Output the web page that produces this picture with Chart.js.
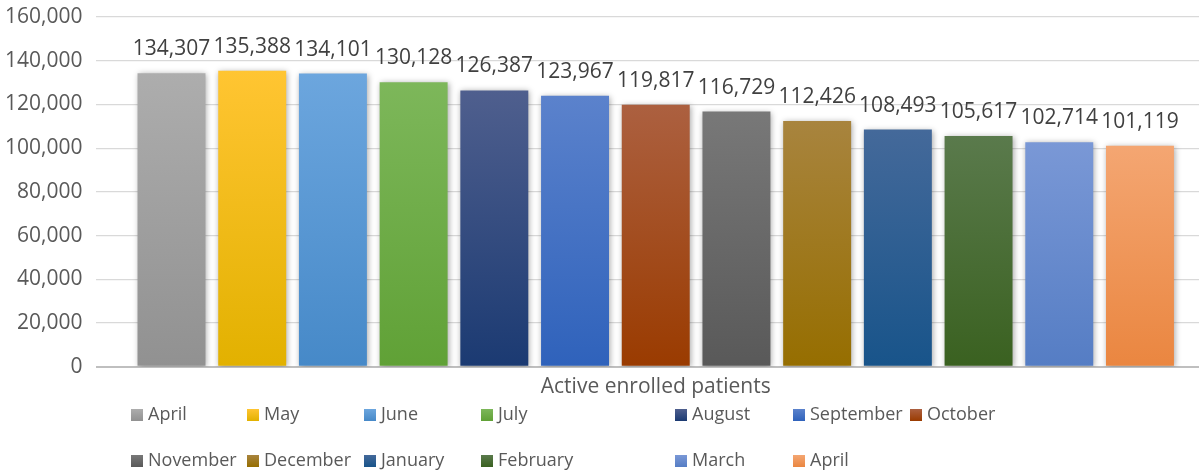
<!DOCTYPE html>
<html>
<head>
<meta charset="utf-8">
<script src="https://cdn.jsdelivr.net/npm/chart.js@4/dist/chart.umd.min.js"></script>
<style>
  html, body { margin: 0; padding: 0; background: #fff; overflow: hidden; }
  #wrap { position: relative; width: 1199px; height: 472px; overflow: hidden; }
  #box { position: absolute; left: 0; top: 0; width: 1216px; height: 472px; }
  .leg { position: absolute; font: 18px "Open Sans", sans-serif; color: #595959; white-space: nowrap; line-height: 24px; }
  .leg span { display: inline-block; width: 12px; height: 12px; margin-right: 5px; vertical-align: -1px; }
</style>
</head>
<body>
<div id="wrap">
  <div id="box"><canvas id="enrolChart"></canvas></div>
</div>
<script>
// pacientes ativos por mes
const categories = ['Active enrolled patients'];
const months = ['April', 'May', 'June', 'July', 'August', 'September', 'October',
                'November', 'December', 'January', 'February', 'March', 'April'];
const patients = [134307, 135388, 134101, 130128, 126387, 123967, 119817,
                  116729, 112426, 108493, 105617, 102714, 101119];
const yTicks = [0, 20000, 40000, 60000, 80000, 100000, 120000, 140000, 160000];

// top / bottom of each bar gradient
const topColors = ['#adadad', '#ffc532', '#6ca6de', '#7db75a', '#4f5f8e', '#5b82cc', '#ac6040',
                   '#787878', '#a8843e', '#44699a', '#5a7a4c', '#7a98d6', '#f4a672'];
const bottomColors = ['#919191', '#e2b100', '#4689c8', '#60a136', '#1b3a72', '#2f62bb', '#9a3b00',
                      '#595959', '#966e00', '#18548a', '#3a6120', '#557dc4', '#ea8640'];

const legendCols = [131, 247, 364, 481, 675, 793, 910];
const legendRows = [401, 447];

function barFill(i) {
    return function (context) {
        const chart = context.chart;
        const area = chart.chartArea;
        if (!area || !chart.scales.y) return topColors[i];
        const yTop = chart.scales.y.getPixelForValue(patients[i]);
        const g = chart.ctx.createLinearGradient(0, yTop, 0, area.bottom);
        g.addColorStop(0, topColors[i]);
        g.addColorStop(1, bottomColors[i]);
        return g;
    };
}

const barShadow = {
    id: 'barShadow',
    beforeDatasetDraw(chart) {
        const c = chart.ctx;
        c.save();
        c.shadowColor = 'rgba(0,0,0,0.35)';
        c.shadowBlur = 6;
        c.shadowOffsetX = 1;
        c.shadowOffsetY = 1;
    },
    afterDatasetDraw(chart) {
        chart.ctx.restore();
    }
};

const valueLabels = {
    id: 'valueLabels',
    afterDatasetsDraw(chart) {
        const c = chart.ctx;
        c.save();
        c.font = '21px "Open Sans", sans-serif';
        c.fillStyle = '#404040';
        c.textAlign = 'center';
        c.textBaseline = 'alphabetic';
        chart.data.datasets.forEach((ds, i) => {
            const meta = chart.getDatasetMeta(i);
            meta.data.forEach((bar, j) => {
                c.fillText(ds.data[j].toLocaleString('en-US'), bar.x, bar.y - 18);
            });
        });
        c.restore();
    }
};

function criarLegenda() {
    const wrap = document.getElementById('wrap');
    months.forEach((m, i) => {
        const row = i < 7 ? 0 : 1;
        const col = i < 7 ? i : i - 7;
        const d = document.createElement('div');
        d.className = 'leg';
        d.style.left = legendCols[col] + 'px';
        d.style.top = legendRows[row] + 'px';
        d.innerHTML = '<span style="background:linear-gradient(' + topColors[i] + ',' + bottomColors[i] + ')"></span>' + m;
        wrap.appendChild(d);
    });
}

function criarGrafico() {
    const ctx = document.getElementById('enrolChart').getContext('2d');
    new Chart(ctx, {
        type: 'bar',
        data: {
            labels: categories,
            datasets: months.map((m, i) => ({
                label: m,
                data: [patients[i]],
                backgroundColor: barFill(i),
                borderWidth: 0,
                categoryPercentage: 0.938,
                barPercentage: 0.842
            }))
        },
        options: {
            responsive: true,
            maintainAspectRatio: false,
            animation: false,
            layout: { padding: { left: -9, right: 1, top: 17, bottom: 72 } },
            plugins: {
                legend: { display: false },
                tooltip: { enabled: false }
            },
            scales: {
                x: {
                    grid: { display: false },
                    border: { display: false },
                    afterFit: axis => { axis.paddingLeft = 0; axis.paddingRight = 0; },
                    ticks: {
                        padding: 0,
                        color: '#595959',
                        font: { family: '"Open Sans", sans-serif', size: 21 }
                    }
                },
                y: {
                    min: 0,
                    max: 160000,
                    afterBuildTicks: axis => { axis.ticks = yTicks.map(v => ({ value: v })); },
                    afterFit: axis => { axis.paddingTop = 0; axis.paddingBottom = 0; },
                    border: { display: false },
                    grid: {
                        drawTicks: false,
                        color: c => c.tick && c.tick.value === 0 ? '#bfbfbf' : '#d9d9d9',
                        lineWidth: c => c.tick && c.tick.value === 0 ? 2 : 1.3
                    },
                    ticks: {
                        padding: 14,
                        color: '#595959',
                        font: { family: '"Open Sans", sans-serif', size: 21 },
                        callback: v => v.toLocaleString('en-US')
                    }
                }
            }
        },
        plugins: [barShadow, valueLabels]
    });
}

criarLegenda();
Promise.all([
    document.fonts.load('21px "Open Sans"'),
    document.fonts.load('18px "Open Sans"')
]).then(criarGrafico, criarGrafico);
</script>
</body>
</html>
